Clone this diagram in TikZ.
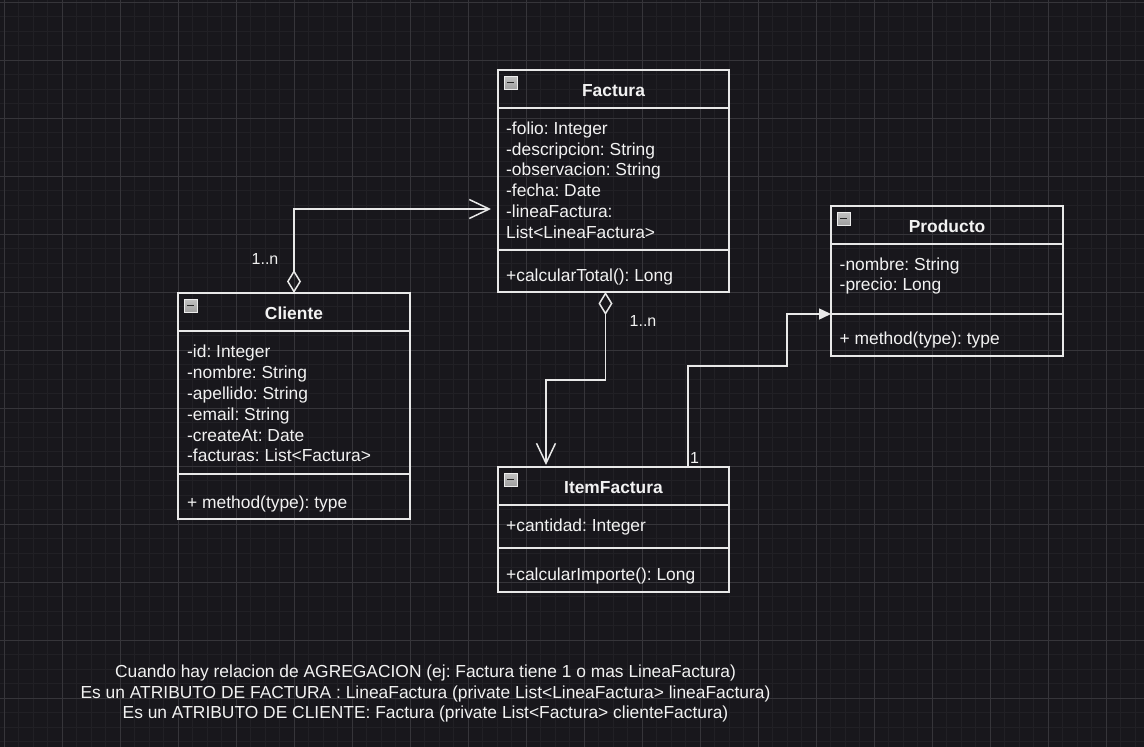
\documentclass[tikz,border=0pt]{standalone}
\usepackage{fontspec}
\setmainfont{Liberation Sans}
\usetikzlibrary{arrows.meta}
\frenchspacing

\definecolor{bgcol}{HTML}{18171C}
\definecolor{minorcol}{HTML}{212025}
\definecolor{majorcol}{HTML}{36353A}
\definecolor{linecol}{HTML}{E8E8E8}
\definecolor{textcol}{HTML}{F2F2F2}

\def\uml{\fontsize{17.4}{20.8}\selectfont}
\def\minusicon#1{
	\draw[iconbox] (#1) ++(6,6) rectangle ++(13,13);
	\draw[iconbar] (#1) ++(9,12.5) -- ++(7,0);
}

\tikzset{
	classbox/.style={draw=linecol, line width=1.5pt, inner sep=0pt, outer sep=0pt},
	classline/.style={draw=linecol, line width=1.5pt},
	classtitle/.style={text=textcol, font=\uml\bfseries, inner sep=0pt, anchor=base},
	members/.style={text=textcol, font=\uml, inner sep=0pt, align=left, anchor=north west},
	mult/.style={text=textcol, font=\fontsize{16}{19}\selectfont, inner sep=0pt, anchor=base west},
	iconbox/.style={draw=white!85!gray, line width=0.8pt, top color=gray!35, bottom color=gray!75},
	iconbar/.style={draw=black!85, line width=1.6pt},
	aggr/.style={draw=linecol, line width=1.5pt, shorten >=7pt,
		{Diamond[open, length=23pt, width=14pt]}-{Straight Barb[length=20pt, width=19pt, line width=1.5pt]}},
	assoc/.style={draw=linecol, line width=1.5pt,
		-{Triangle[length=12pt, width=11pt]}},
}

\begin{document}
\begin{tikzpicture}[x=1pt, y=-1pt]
\useasboundingbox (0,0) rectangle (1144,747);
\fill[bgcol] (0,0) rectangle (1144,747);

% grid
\foreach \i in {0,...,78}{
	\draw[minorcol, line width=1pt] ({4+14.505*\i},0) -- ++(0,747);
}
\foreach \j in {0,...,51}{
	\draw[minorcol, line width=1pt] (0,{2+14.5075*\j}) -- ++(1144,0);
}
\foreach \i in {0,...,19}{
	\draw[majorcol, line width=1pt] ({4+58.02*\i},0) -- ++(0,747);
}
\foreach \j in {0,...,12}{
	\draw[majorcol, line width=1pt] (0,{2+58.03*\j}) -- ++(1144,0);
}

% Factura
\node[classbox, minimum width=231pt, minimum height=222pt] (factura) at (613.5,181) {};
\draw[classline] (factura.west |- 0,108) -- (factura.east |- 0,108);
\draw[classline] (factura.west |- 0,250) -- (factura.east |- 0,250);
\minusicon{factura.north west}
\node[classtitle] (facturaT) at (613.5,96) {Factura};
\node[members] (facturaA) at (506,121.5) {-folio: Integer\\-descripcion: String\\-observacion: String\\-fecha: Date\\-lineaFactura:\\List<LineaFactura>};
\node[members] (facturaM) at (506,269) {+calcularTotal(): Long};

% Cliente
\node[classbox, minimum width=232pt, minimum height=226pt] (cliente) at (294,406) {};
\draw[classline] (cliente.west |- 0,331) -- (cliente.east |- 0,331);
\draw[classline] (cliente.west |- 0,474) -- (cliente.east |- 0,474);
\minusicon{cliente.north west}
\node[classtitle] (clienteT) at (294,319) {Cliente};
\node[members] (clienteA) at (187,345) {-id: Integer\\-nombre: String\\-apellido: String\\-email: String\\-createAt: Date\\-facturas: List<Factura>};
\node[members] (clienteM) at (187,496) {+ method(type): type};

% Producto
\node[classbox, minimum width=232pt, minimum height=150pt] (producto) at (947,281) {};
\draw[classline] (producto.west |- 0,244) -- (producto.east |- 0,244);
\draw[classline] (producto.west |- 0,314) -- (producto.east |- 0,314);
\minusicon{producto.north west}
\node[classtitle] (productoT) at (947,232) {Producto};
\node[members] (productoA) at (839.5,257.3) {-nombre: String\\-precio: Long};
\node[members] (productoM) at (839.5,332) {+ method(type): type};

% ItemFactura
\node[classbox, minimum width=231pt, minimum height=125pt] (item) at (613.5,529.5) {};
\draw[classline] (item.west |- 0,505) -- (item.east |- 0,505);
\draw[classline] (item.west |- 0,548) -- (item.east |- 0,548);
\minusicon{item.north west}
\node[classtitle] (itemT) at (613.5,493) {ItemFactura};
\node[members] (itemA) at (506,519) {+cantidad: Integer};
\node[members] (itemM) at (506,568) {+calcularImporte(): Long};

% relaciones
\coordinate (facIn) at ([yshift=-28pt]factura.west);
\draw[aggr] (cliente.north) |- (facIn);
\draw[aggr, shorten >=2pt] ([xshift=-8pt]factura.south) -- ++(0,88) -| ([xshift=-67.5pt]item.north);
\coordinate (bend) at (787,366);
\draw[assoc] ([xshift=74.5pt]item.north) |- (bend) |- ([yshift=-33pt]producto.west);

\node[mult] (m1) at (251.5,264) {1..n};
\node[mult] (m2) at (629.5,326) {1..n};
\node[mult] (m3) at (690,463) {1};

% nota
\node[text=textcol, font=\uml, inner sep=0pt, align=center, anchor=north] (nota) at (425.5,664.5)
	{Cuando hay relacion de AGREGACION (ej: Factura tiene 1 o mas LineaFactura)\\
	 Es un ATRIBUTO DE FACTURA : LineaFactura (private List<LineaFactura> lineaFactura)\\
	 Es un ATRIBUTO DE CLIENTE: Factura (private List<Factura> clienteFactura)};
\end{tikzpicture}
\end{document}
